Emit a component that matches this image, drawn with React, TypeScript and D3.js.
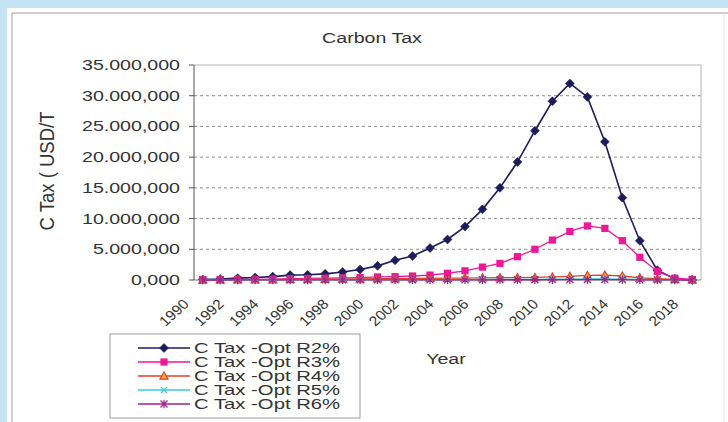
import React from "react";
import * as d3 from "d3";

const years = ["1990","1991","1992","1993","1994","1995","1996","1997","1998","1999","2000","2001","2002","2003","2004","2005","2006","2007","2008","2009","2010","2011","2012","2013","2014","2015","2016","2017","2018"];
const xTickLabels = ["1990","1992","1994","1996","1998","2000","2002","2004","2006","2008","2010","2012","2014","2016","2018"];
const seriesNames = ["C Tax -Opt R2%","C Tax -Opt R3%","C Tax -Opt R4%","C Tax -Opt R5%","C Tax -Opt R6%"];
const r2 = [0.1,0.15,0.3,0.4,0.55,0.8,0.85,1.0,1.3,1.7,2.3,3.2,3.9,5.2,6.6,8.7,11.5,15.0,19.2,24.3,29.1,32.0,29.8,22.5,13.4,6.4,1.6,0.2,0.0];
const r3 = [0.05,0.05,0.1,0.1,0.15,0.2,0.25,0.3,0.35,0.4,0.5,0.55,0.65,0.8,1.1,1.5,2.1,2.7,3.8,5.0,6.5,7.9,8.8,8.4,6.4,3.7,1.4,0.3,0.1];
const r4 = [0.02,0.03,0.04,0.05,0.06,0.08,0.1,0.12,0.14,0.16,0.2,0.22,0.25,0.28,0.3,0.32,0.35,0.38,0.4,0.42,0.5,0.6,0.75,0.8,0.65,0.35,0.2,0.08,0.03];
const r5 = [0.01,0.01,0.01,0.02,0.02,0.02,0.03,0.03,0.04,0.04,0.05,0.05,0.06,0.06,0.07,0.07,0.08,0.08,0.09,0.1,0.12,0.14,0.16,0.16,0.13,0.08,0.04,0.02,0.01];
const r6 = [0.0,0.0,0.01,0.01,0.01,0.01,0.01,0.01,0.02,0.02,0.02,0.02,0.02,0.03,0.03,0.03,0.03,0.04,0.04,0.04,0.05,0.05,0.06,0.06,0.05,0.03,0.02,0.01,0.0];
const yTickValues = [0,5,10,15,20,25,30,35];
const yTickLabels = ["0,000","5.000,000","10.000,000","15.000,000","20.000,000","25.000,000","30.000,000","35.000,000"];
const colors = ["#1c1c5c","#f0169a","#e0402a","#3cc8e0","#a01e8c"];

const SX = 1.4;
const FONT = "'Liberation Sans', Arial, sans-serif";

function Marker({ kind, x, y, color }: { kind: number; x: number; y: number; color: string }) {
  if (kind === 0) {
    const s = 4.5;
    return <path d={`M${x},${y - s}L${x + s},${y}L${x},${y + s}L${x - s},${y}Z`} fill={color} stroke={color} strokeWidth={0.5} />;
  }
  if (kind === 1) {
    const s = 3.6;
    return <rect x={x - s} y={y - s} width={2 * s} height={2 * s} fill={color} />;
  }
  if (kind === 2) {
    const s = 4;
    return <path d={`M${x},${y - s}L${x + s},${y + s * 0.8}L${x - s},${y + s * 0.8}Z`} fill="#ffb030" stroke={color} strokeWidth={1.2} />;
  }
  if (kind === 3) {
    const s = 3;
    return <path d={`M${x - s},${y - s}L${x + s},${y + s}M${x - s},${y + s}L${x + s},${y - s}`} stroke={color} strokeWidth={1.2} />;
  }
  const s = 3.5;
  return <path d={`M${x - s},${y - s}L${x + s},${y + s}M${x - s},${y + s}L${x + s},${y - s}M${x},${y - s * 1.2}L${x},${y + s * 1.2}`} stroke={color} strokeWidth={1.2} />;
}

function STextEl({ x, y, children, size = 14, anchor = "start", rotate = 0, fill = "#333", sx = SX }: any) {
  return (
    <text
      transform={`translate(${x},${y}) scale(${sx},1) rotate(${rotate})`}
      fontSize={size}
      fontFamily={FONT}
      textAnchor={anchor}
      fill={fill}
    >
      {children}
    </text>
  );
}

export default function App() {
  const W = 728, H = 422;
  const x = d3.scaleBand<string>().domain(years).range([194, 701]);
  const y = d3.scaleLinear().domain([0, 35]).range([280, 65]);
  const cx = (yr: string) => (x(yr) as number) + x.bandwidth() / 2;
  const data = [r2, r3, r4, r5, r6];
  const line = d3.line<number>().x((_, i) => cx(years[i])).y((v) => y(v));

  return (
    <svg width={W} height={H} style={{ position: "absolute", left: 0, top: 0 }}>
      <rect x={0} y={0} width={W} height={H} fill="#c4e4f6" />
      <rect x={7} y={8} width={W - 7} height={H - 8} fill="#ffffff" />
      <path d={`M12,${H}L12,13L${W},13`} fill="none" stroke="#9a9a9a" strokeWidth={1} />
      <line x1={724} y1={13} x2={724} y2={H} stroke="#e4e4e4" />

      <STextEl x={372} y={43} anchor="middle" size={14}>Carbon Tax</STextEl>

      {/* gridlines */}
      {yTickValues.filter((v) => v > 0 && v < 35).map((v) => (
        <line key={v} x1={194} x2={701} y1={y(v)} y2={y(v)} stroke="#8c8c8c" strokeDasharray="3,3" strokeWidth={1} />
      ))}
      {/* frame */}
      <line x1={194} x2={701} y1={y(35)} y2={y(35)} stroke="#b4b4b4" />
      <line x1={701} x2={701} y1={y(35)} y2={y(0)} stroke="#b4b4b4" />
      <line x1={194} x2={701} y1={y(0)} y2={y(0)} stroke="#777" />
      <line x1={194} x2={194} y1={y(35)} y2={y(0)} stroke="#555" />
      {yTickValues.map((v, i) => (
        <g key={v}>
          <line x1={189} x2={194} y1={y(v)} y2={y(v)} stroke="#555" />
          <STextEl x={180} y={y(v) + 5} anchor="end" size={14}>{yTickLabels[i]}</STextEl>
        </g>
      ))}
      <STextEl x={54} y={171} anchor="middle" size={18.5} sx={1.1} rotate={-90}>C Tax ( USD/T</STextEl>

      {/* series */}
      {data.map((d, si) => (
        <g key={si}>
          <path d={line(d) as string} fill="none" stroke={colors[si]} strokeWidth={si === 0 ? 1.6 : 1.3} />
          {d.map((v, i) => (
            <Marker key={i} kind={si} x={cx(years[i])} y={y(v)} color={colors[si]} />
          ))}
        </g>
      ))}

      {/* x tick labels */}
      {xTickLabels.map((lab) => (
        <STextEl key={lab} x={cx(lab) - 13} y={305} anchor="end" size={14} sx={1.1} rotate={-45}>{lab}</STextEl>
      ))}
      <STextEl x={446} y={364} anchor="middle" size={14}>Year</STextEl>

      {/* legend */}
      <rect x={110} y={334} width={250} height={84} fill="#fff" stroke="#9a9a9a" />
      {seriesNames.map((n, i) => {
        const ly = 348 + i * 14;
        return (
          <g key={n}>
            <line x1={138} x2={190} y1={ly} y2={ly} stroke={colors[i]} strokeWidth={1.3} />
            <Marker kind={i} x={164} y={ly} color={colors[i]} />
            <STextEl x={194} y={ly + 5} size={14} sx={1.45}>{n}</STextEl>
          </g>
        );
      })}
    </svg>
  );
}
